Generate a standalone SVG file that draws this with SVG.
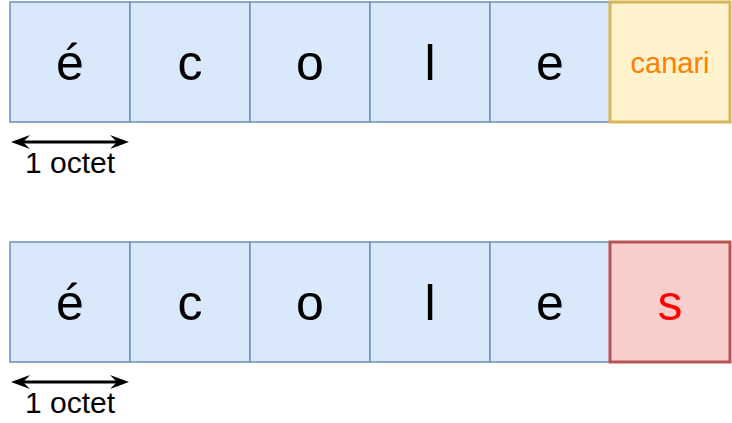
<svg xmlns="http://www.w3.org/2000/svg" width="732" height="423" viewBox="0 0 732 423">
<defs>
<style>
.cell{fill:#dae8fc;stroke:#6c8ebf;stroke-width:1.5}
.letter{font-family:"Liberation Sans",Arial,sans-serif;font-size:50px;text-anchor:middle;fill:#000}
.lbl{font-family:"Liberation Sans",Arial,sans-serif;font-size:30px;text-anchor:middle;fill:#000}
.arr{stroke:#000;stroke-width:3;fill:none}
</style>
<marker id="ah" viewBox="0 0 19 14" refX="10" refY="7" markerWidth="19" markerHeight="14" markerUnits="userSpaceOnUse" orient="auto-start-reverse">
<path d="M0,0 L19,7 L0,14 L7,7 Z" fill="#000"/>
</marker>
</defs>
<rect width="732" height="423" fill="#fff"/>
<g id="row1">
<g id="r1c1"><rect class="cell" x="10" y="2" width="120" height="120"/><text class="letter" x="70" y="80">é</text></g>
<g id="r1c2"><rect class="cell" x="130" y="2" width="120" height="120"/><text class="letter" x="190" y="80">c</text></g>
<g id="r1c3"><rect class="cell" x="250" y="2" width="120" height="120"/><text class="letter" x="310" y="80">o</text></g>
<g id="r1c4"><rect class="cell" x="370" y="2" width="120" height="120"/><text class="letter" x="430" y="80">l</text></g>
<g id="r1c5"><rect class="cell" x="490" y="2" width="120" height="120"/><text class="letter" x="550" y="80">e</text></g>
<g id="r1c6"><rect x="610" y="2" width="120" height="120" fill="#fff2cc" stroke="#d6b656" stroke-width="3"/><text class="lbl" x="670" y="73" style="fill:#ff8000;font-size:29px">canari</text></g>
</g>
<g id="row2">
<g id="r2c1"><rect class="cell" x="10" y="242" width="120" height="120"/><text class="letter" x="70" y="320">é</text></g>
<g id="r2c2"><rect class="cell" x="130" y="242" width="120" height="120"/><text class="letter" x="190" y="320">c</text></g>
<g id="r2c3"><rect class="cell" x="250" y="242" width="120" height="120"/><text class="letter" x="310" y="320">o</text></g>
<g id="r2c4"><rect class="cell" x="370" y="242" width="120" height="120"/><text class="letter" x="430" y="320">l</text></g>
<g id="r2c5"><rect class="cell" x="490" y="242" width="120" height="120"/><text class="letter" x="550" y="320">e</text></g>
<g id="r2c6"><rect x="610" y="242" width="120" height="120" fill="#f8cecc" stroke="#b85450" stroke-width="3"/><text class="letter" x="670" y="320" style="fill:#ff0000">s</text></g>
</g>
<g id="connectors">
<line class="arr" x1="20" y1="142" x2="120" y2="142" marker-start="url(#ah)" marker-end="url(#ah)"/>
<line class="arr" x1="20" y1="382" x2="120" y2="382" marker-start="url(#ah)" marker-end="url(#ah)"/>
</g>
<g id="labels">
<text class="lbl" x="70" y="173">1 octet</text>
<text class="lbl" x="70" y="413">1 octet</text>
</g>
</svg>
